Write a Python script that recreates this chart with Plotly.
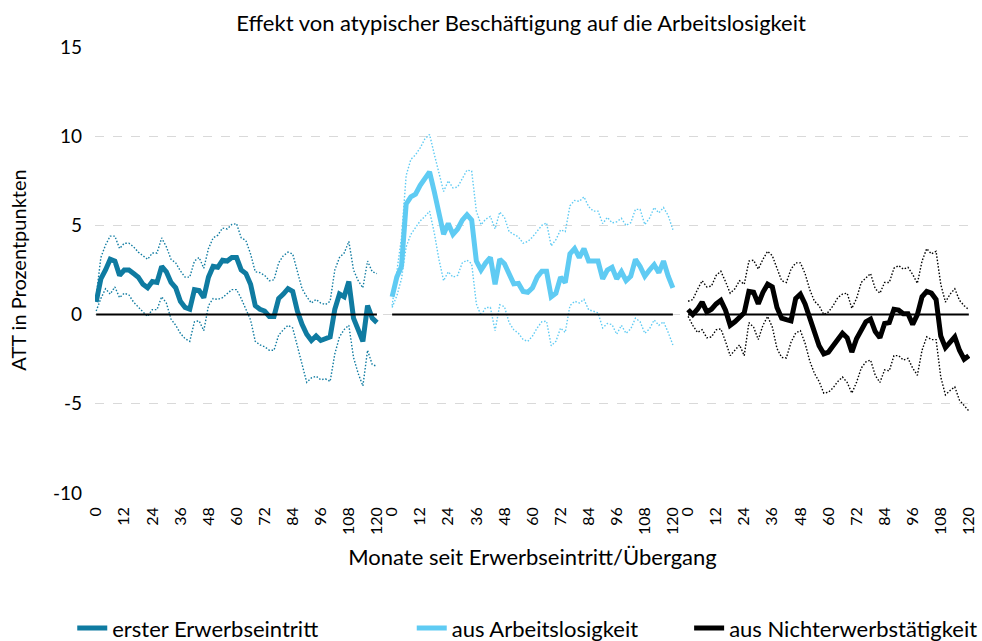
import plotly.graph_objects as go

# Months since entry / transition (sampled every second month)
months = list(range(0, 121, 2))
tick_months = list(range(0, 121, 12))

series_names = ["erster Erwerbseintritt", "aus Arbeitslosigkeit", "aus Nichterwerbstätigkeit"]
series_colors = ["#0F7BA1", "#5FCBF3", "#000000"]

# ATT estimates with upper / lower confidence bounds (percentage points)
att_erst = [0.7, 2.0, 2.5, 3.1, 3.0, 2.2, 2.5, 2.5, 2.3, 2.1, 1.7, 1.5, 1.85, 1.8, 2.7, 2.4,
            1.8, 1.5, 0.75, 0.4, 0.3, 1.4, 1.35, 0.95, 2.1, 2.7, 2.65, 3.05, 3.0, 3.2, 3.2,
            2.5, 2.3, 1.7, 0.5, 0.3, 0.2, -0.1, -0.1, 0.9, 1.15, 1.45, 1.3, 0.2, -0.55, -1.1,
            -1.45, -1.2, -1.45, -1.35, -1.25, 0.3, 1.15, 1.0, 1.85, -0.2, -0.9, -1.5, 0.5, -0.2, -0.45]
upper_erst = [1.0, 3.2, 3.9, 4.4, 4.4, 3.7, 4.0, 4.0, 3.8, 3.5, 3.3, 3.1, 3.45, 3.45, 4.3, 3.8,
              3.1, 2.9, 2.45, 2.1, 2.1, 3.0, 3.2, 2.6, 3.7, 4.3, 4.45, 4.85, 4.8, 5.05, 5.1,
              4.3, 4.15, 3.4, 2.4, 2.35, 2.2, 1.9, 1.95, 2.9, 3.3, 3.5, 3.4, 2.45, 1.45, 1.0,
              0.65, 0.85, 0.65, 0.56, 0.75, 2.5, 3.2, 3.45, 4.1, 2.5, 1.9, 1.5, 3.0, 2.4, 2.3]
lower_erst = [0.2, 0.9, 1.45, 1.15, 1.55, 0.95, 1.2, 1.1, 0.7, 0.4, 0.15, -0.1, 0.28, 0.28, 1.0, 0.65,
              -0.25, -0.6, -1.05, -1.35, -1.5, -0.4, -0.35, -0.9, 0.5, 0.9, 0.85, 0.95, 1.2, 1.4, 1.4,
              0.9, 0.3, -0.3, -1.5, -1.7, -1.8, -2.0, -2.0, -1.15, -0.85, -0.6, -0.75, -1.8, -2.8, -3.8,
              -3.55, -3.45, -3.65, -3.6, -3.75, -2.2, -1.25, -0.84, -0.6, -2.4, -3.3, -4.0, -2.0, -2.8, -2.9]

att_alo = [1.0, 2.1, 2.7, 6.2, 6.6, 6.75, 7.25, 7.65, 8.0, 6.9, 5.6, 4.5, 5.1, 4.5, 4.8, 5.3,
           5.6, 5.3, 3.0, 2.5, 2.9, 3.2, 1.7, 3.1, 2.85, 2.2, 1.72, 1.75, 1.3, 1.25, 1.5,
           2.1, 2.43, 2.43, 1.0, 1.2, 2.1, 1.8, 3.4, 3.7, 3.2, 3.7, 3.0, 3.0, 3.0, 2.0,
           2.5, 2.65, 2.0, 2.4, 1.9, 2.15, 3.1, 2.7, 2.15, 2.5, 2.8, 2.35, 3.0, 2.15, 1.5]
upper_alo = [0.5, 2.3, 4.3, 7.8, 8.7, 8.95, 9.35, 9.85, 10.1, 9.0, 7.9, 6.9, 7.5, 7.1, 7.15, 7.6,
             8.1, 8.05, 5.8, 5.04, 5.35, 5.5, 4.8, 5.75, 5.45, 4.65, 4.5, 4.35, 4.0, 4.1, 4.35,
             4.7, 5.0, 5.14, 3.85, 4.2, 4.75, 4.65, 6.1, 6.4, 6.35, 6.6, 6.05, 5.8, 5.8, 5.1,
             5.45, 5.14, 5.2, 5.4, 5.0, 5.15, 5.9, 5.9, 5.05, 5.4, 6.0, 5.7, 6.0, 5.55, 4.76]
lower_alo = [0.4, 1.05, 2.0, 3.8, 4.5, 4.9, 5.25, 5.5, 5.8, 4.6, 3.1, 1.9, 2.4, 2.1, 2.2, 2.9,
             3.05, 2.85, 0.6, -0.05, 0.4, 0.4, -0.9, 0.55, 0.45, -0.45, -0.85, -1.05, -1.4, -1.5, -1.2,
             -0.75, -0.4, -0.37, -1.75, -1.5, -0.75, -1.0, 0.5, 0.75, 0.65, 0.85, 0.27, 0.19, 0.1, -0.75,
             -0.5, -0.56, -1.1, -0.6, -1.05, -0.8, -0.2, -0.4, -1.05, -0.8, -0.3, -0.6, -0.4, -1.0, -1.7]

att_new = [0.28, 0.0, 0.3, 0.7, 0.15, 0.3, 0.6, 0.8, 0.25, -0.6, -0.4, -0.12, 0.1, 1.3, 1.25, 0.6,
           1.25, 1.7, 1.55, 0.4, -0.2, -0.28, -0.35, 0.9, 1.15, 0.6, -0.15, -1.1, -1.75, -2.2, -2.1,
           -1.75, -1.35, -1.05, -1.3, -2.1, -1.35, -0.9, -0.4, -0.25, -0.95, -1.3, -0.5, -0.45, 0.3, 0.25,
           0.05, 0.05, -0.55, 0.0, 1.0, 1.3, 1.2, 0.85, -1.2, -1.85, -1.5, -1.25, -2.0, -2.5, -2.3]
upper_new = [0.75, 0.84, 1.4, 1.9, 1.55, 1.6, 2.2, 2.43, 1.85, 1.2, 1.45, 1.9, 1.7, 3.0, 3.05, 2.55,
             3.1, 3.55, 3.3, 2.6, 1.9, 1.8, 2.55, 2.9, 2.9, 2.3, 1.4, 0.75, 0.5, 0.0, 0.15,
             0.5, 0.95, 1.15, 1.2, 0.35, 0.9, 1.8, 2.05, 2.3, 1.45, 1.2, 1.8, 1.8, 2.6, 2.75,
             2.55, 2.65, 2.25, 1.75, 3.0, 3.7, 3.4, 3.55, 1.7, 0.7, 1.15, 1.45, 0.8, 0.5, 0.28]
lower_new = [-0.1, -0.6, -1.0, -0.85, -1.3, -1.25, -0.85, -0.8, -1.5, -2.3, -2.0, -1.7, -2.3, -0.45, -0.7, -1.4,
             -0.6, -0.1, -0.7, -1.9, -2.4, -2.43, -1.55, -1.03, -0.9, -1.6, -2.6, -3.3, -3.75, -4.4, -4.35,
             -4.1, -3.75, -3.5, -3.8, -4.4, -3.8, -3.0, -2.65, -2.55, -3.4, -3.8, -3.1, -3.15, -2.3, -2.3,
             -2.55, -2.45, -3.0, -3.4, -2.0, -1.25, -1.4, -1.4, -3.5, -4.5, -4.25, -4.05, -4.8, -5.1, -5.4]

y_ticks = [-10, -5, 0, 5, 10, 15]
y_tick_labels = ["-10", "-5", "0", "5", "10", "15"]

att_series = [att_erst, att_alo, att_new]
upper_series = [upper_erst, upper_alo, upper_new]
lower_series = [lower_erst, lower_alo, lower_new]

# Each group gets its own 0..120 block on a shared axis
block_offset = [0, 126.5, 253]

FONT = "Lato, 'Noto Sans', sans-serif"
legend_ids = ["legend", "legend2", "legend3"]
legend_x = [-0.026, 0.362, 0.679]

fig = go.Figure()

for k in range(3):
    xs = [m + block_offset[k] for m in months]
    for band in (upper_series[k], lower_series[k]):
        fig.add_trace(go.Scatter(x=xs, y=band, mode="lines", showlegend=False, hoverinfo="skip",
                                 line=dict(color=series_colors[k], width=1.4, dash="1.5px,1.8px")))

for k in range(3):
    xs = [m + block_offset[k] for m in months]
    fig.add_trace(go.Scatter(x=xs, y=att_series[k], mode="lines", name=series_names[k],
                             legend=legend_ids[k],
                             line=dict(color=series_colors[k], width=5)))

# Zero reference line inside each block
for k in range(3):
    fig.add_trace(go.Scatter(x=[block_offset[k], 120 + block_offset[k]], y=[0, 0], mode="lines",
                             showlegend=False, hoverinfo="skip",
                             line=dict(color="#000000", width=2)))

tickvals = [m + off for off in block_offset for m in tick_months]
ticktext = [str(m) for off in block_offset for m in tick_months]

legend_style = dict(orientation="h", xanchor="left", y=-0.303, yanchor="middle",
                    font=dict(size=22, family=FONT, color="#000000"), itemwidth=30,
                    bgcolor="rgba(0,0,0,0)")

fig.update_layout(
    width=982, height=641,
    margin=dict(l=95, r=12, t=47, b=148, autoexpand=False),
    paper_bgcolor="white", plot_bgcolor="white",
    font=dict(family=FONT, color="#000000"),
    title=dict(text="Effekt von atypischer Beschäftigung auf die Arbeitslosigkeit",
               x=0.487, xref="paper", xanchor="center", y=0.963, yanchor="middle",
               font=dict(size=22, family=FONT, color="#000000")),
    xaxis=dict(range=[-0.5, 373.5], tickmode="array", tickvals=tickvals, ticktext=ticktext,
               tickangle=-90, showgrid=False, zeroline=False, showline=False, ticks="",
               automargin=False,
               tickfont=dict(size=16, family=FONT, color="#000000"), ticklabelstandoff=10,
               title=dict(text="Monate seit Erwerbseintritt/Übergang",
                          font=dict(size=22, family=FONT, color="#000000"), standoff=15)),
    yaxis=dict(range=[-10, 15], tickmode="array", tickvals=y_ticks, ticktext=y_tick_labels,
               showgrid=True, automargin=False,
               gridcolor="#D9D9D9", griddash="dash", gridwidth=1, zeroline=False, showline=False,
               ticks="", tickfont=dict(size=19, family=FONT, color="#000000"), ticklabelstandoff=12,
               title=dict(text="ATT in Prozentpunkten",
                          font=dict(size=20, family=FONT, color="#000000"), standoff=20)),
    legend=dict(x=legend_x[0], **legend_style),
    legend2=dict(x=legend_x[1], **legend_style),
    legend3=dict(x=legend_x[2], **legend_style),
)

fig.write_html("out.html")
